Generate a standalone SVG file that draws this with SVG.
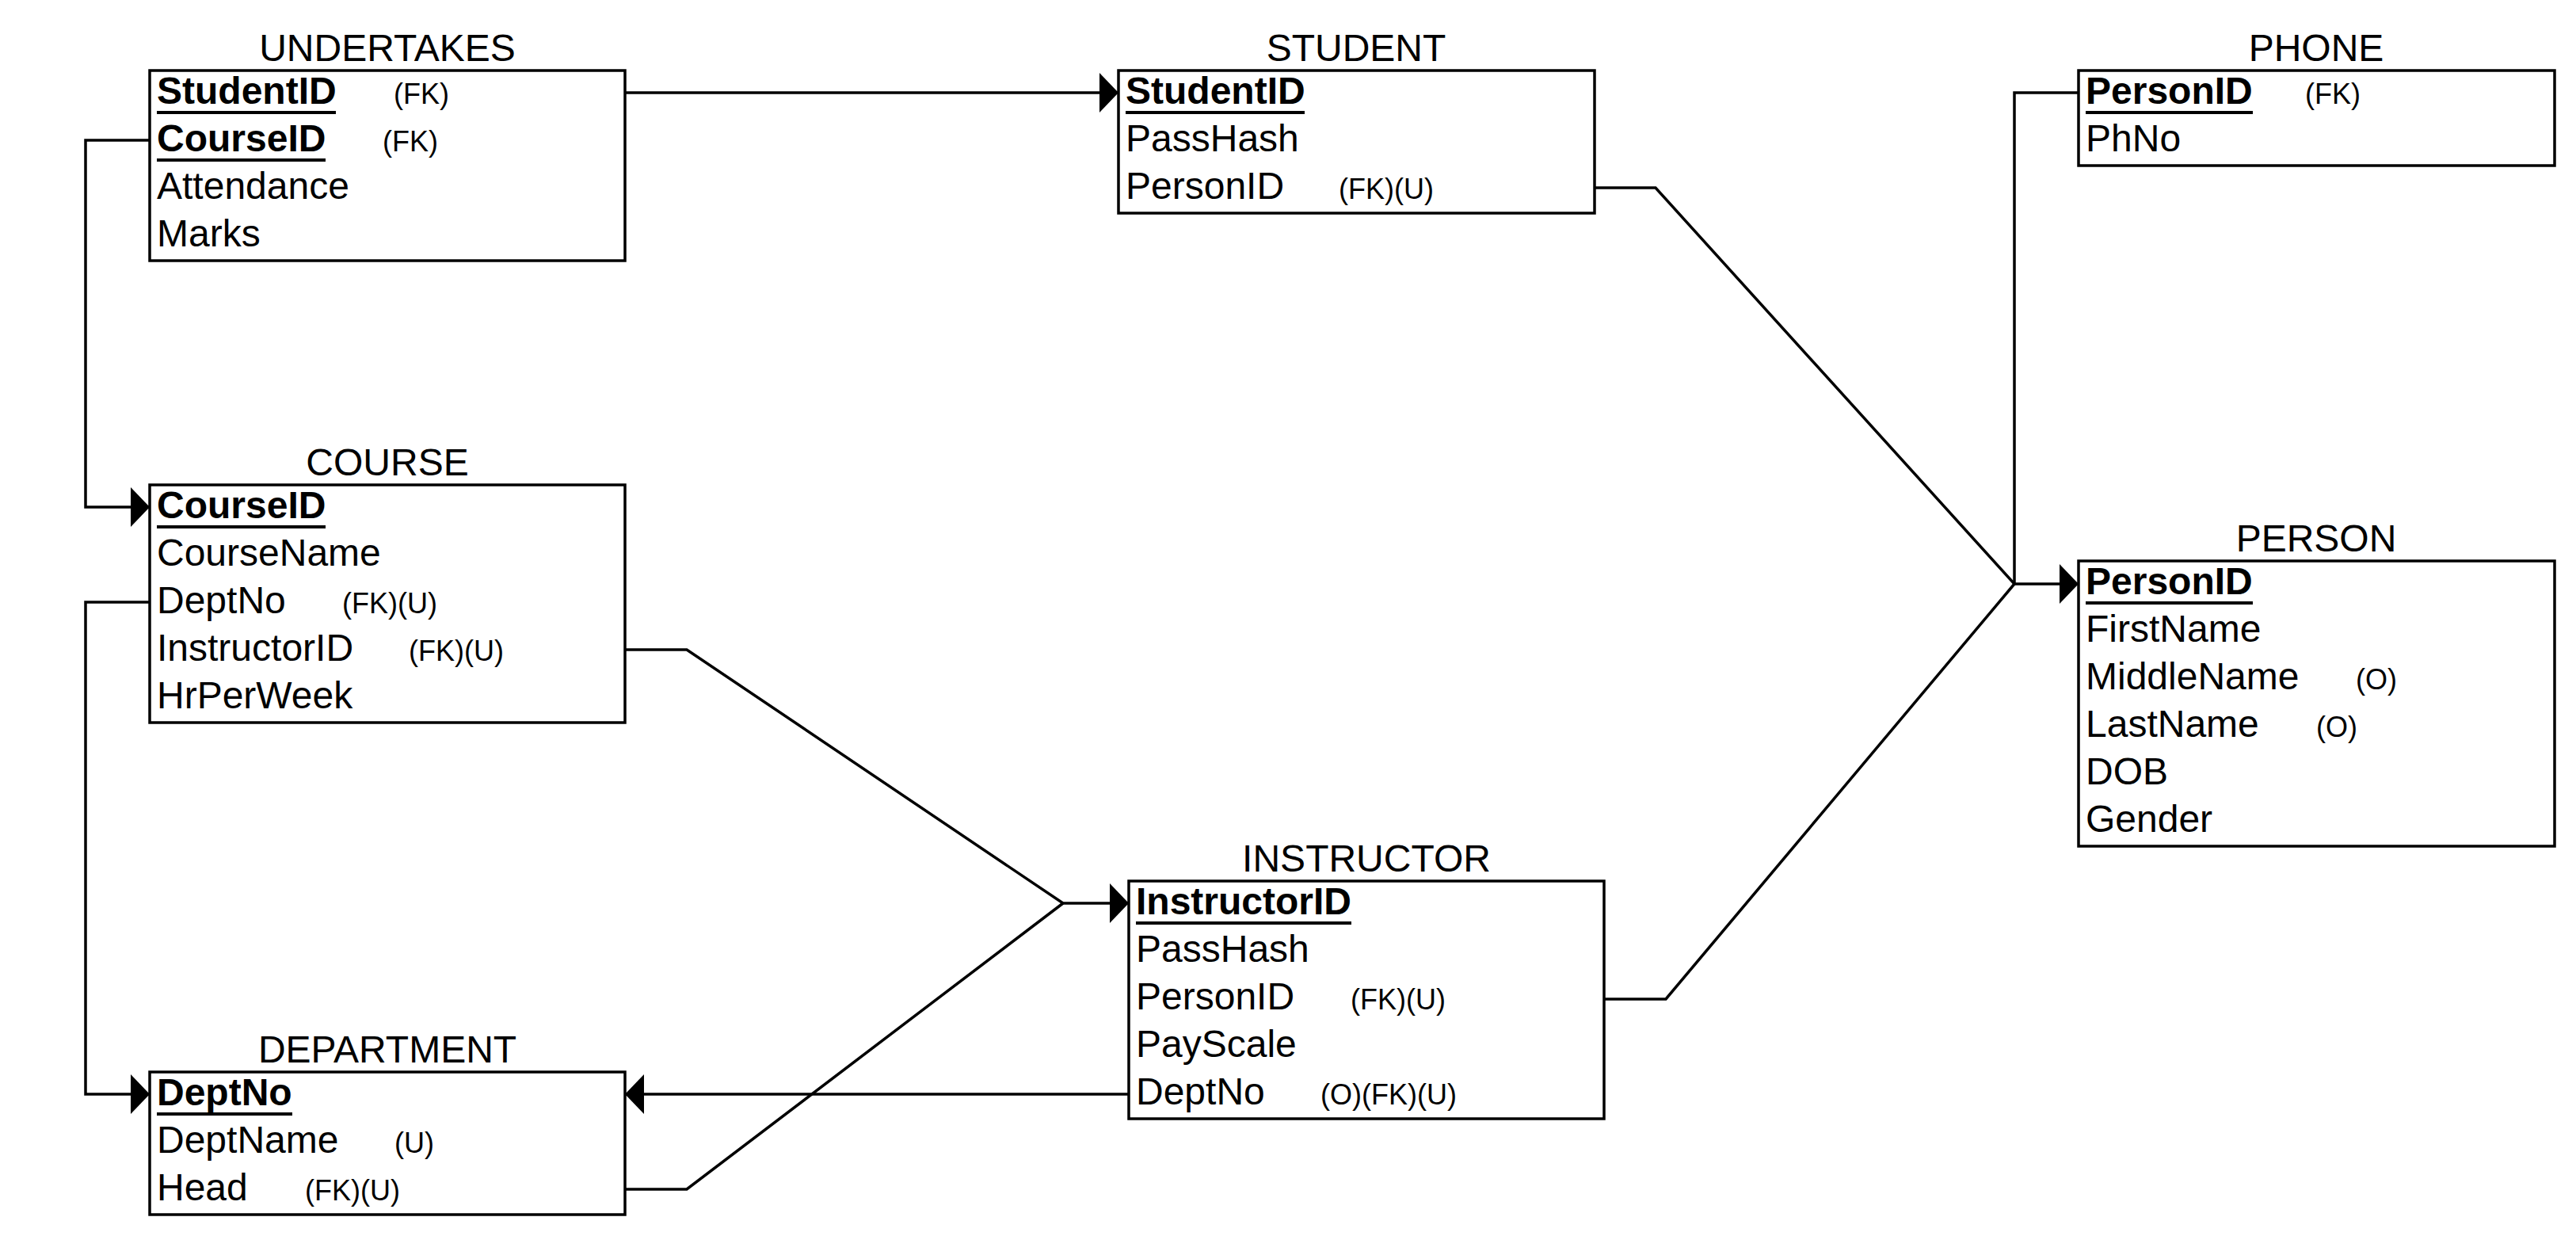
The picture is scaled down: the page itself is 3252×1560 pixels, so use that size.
<svg xmlns="http://www.w3.org/2000/svg" width="3252" height="1560" viewBox="0 0 3252 1560">
<style>
text{font-family:"Liberation Sans",Arial,sans-serif;fill:#000}
.title{font-size:48px;text-anchor:middle}
.row{font-size:48px}
.key{font-size:48px;font-weight:bold}
.note{font-size:36px}
.box{fill:#fff;stroke:#000;stroke-width:3.5}
.ul{stroke:#000;stroke-width:4}
.conn path{fill:none;stroke:#000;stroke-width:3.5}
</style>
<defs>
<marker id="arr" markerUnits="userSpaceOnUse" markerWidth="26" markerHeight="52" refX="24" refY="25" orient="auto" viewBox="0 0 26 52">
<path d="M0,0 L24,25 L0,50 Z" fill="#000"/>
</marker>
</defs>
<rect width="3252" height="1560" fill="#fff"/>

<g class="conn" id="connectors">
<path d="M789,117 H1412" marker-end="url(#arr)"/>
<path d="M189,177 H108 V640 H189" marker-end="url(#arr)"/>
<path d="M189,760 H108 V1381 H189" marker-end="url(#arr)"/>
<path d="M789,820 H867 L1342,1140 H1425" marker-end="url(#arr)"/>
<path d="M789,1501 H867 L1342,1140"/>
<path d="M1425,1381 H789" marker-end="url(#arr)"/>
<path d="M2013,237 H2090 L2543,737 H2624" marker-end="url(#arr)"/>
<path d="M2025,1261 H2103 L2543,737"/>
<path d="M2624,117 H2543 V737"/>
</g>

<g id="undertakes">
<text class="title" x="489" y="77">UNDERTAKES</text>
<rect class="box" x="189" y="89" width="600" height="240"/>
<text class="key" x="198" y="131">StudentID</text><line class="ul" x1="198" y1="142" x2="424" y2="142"/>
<text class="note" x="497" y="131">(FK)</text>
<text class="key" x="198" y="191">CourseID</text><line class="ul" x1="198" y1="202" x2="411" y2="202"/>
<text class="note" x="483" y="191">(FK)</text>
<text class="row" x="198" y="251">Attendance</text>
<text class="row" x="198" y="311">Marks</text>
</g>

<g id="student">
<text class="title" x="1712" y="77">STUDENT</text>
<rect class="box" x="1412" y="89" width="601" height="180"/>
<text class="key" x="1421" y="131">StudentID</text><line class="ul" x1="1421" y1="142" x2="1647" y2="142"/>
<text class="row" x="1421" y="191">PassHash</text>
<text class="row" x="1421" y="251">PersonID</text>
<text class="note" x="1690" y="251">(FK)(U)</text>
</g>

<g id="phone">
<text class="title" x="2924" y="77">PHONE</text>
<rect class="box" x="2624" y="89" width="601" height="120"/>
<text class="key" x="2633" y="131">PersonID</text><line class="ul" x1="2633" y1="142" x2="2844" y2="142"/>
<text class="note" x="2910" y="131">(FK)</text>
<text class="row" x="2633" y="191">PhNo</text>
</g>

<g id="course">
<text class="title" x="489" y="600">COURSE</text>
<rect class="box" x="189" y="612" width="600" height="300"/>
<text class="key" x="198" y="654">CourseID</text><line class="ul" x1="198" y1="665" x2="411" y2="665"/>
<text class="row" x="198" y="714">CourseName</text>
<text class="row" x="198" y="774">DeptNo</text>
<text class="note" x="432" y="774">(FK)(U)</text>
<text class="row" x="198" y="834">InstructorID</text>
<text class="note" x="516" y="834">(FK)(U)</text>
<text class="row" x="198" y="894">HrPerWeek</text>
</g>

<g id="person">
<text class="title" x="2924" y="696">PERSON</text>
<rect class="box" x="2624" y="708" width="601" height="360"/>
<text class="key" x="2633" y="750">PersonID</text><line class="ul" x1="2633" y1="761" x2="2844" y2="761"/>
<text class="row" x="2633" y="810">FirstName</text>
<text class="row" x="2633" y="870">MiddleName</text>
<text class="note" x="2974" y="870">(O)</text>
<text class="row" x="2633" y="930">LastName</text>
<text class="note" x="2924" y="930">(O)</text>
<text class="row" x="2633" y="990">DOB</text>
<text class="row" x="2633" y="1050">Gender</text>
</g>

<g id="instructor">
<text class="title" x="1725" y="1100">INSTRUCTOR</text>
<rect class="box" x="1425" y="1112" width="600" height="300"/>
<text class="key" x="1434" y="1154">InstructorID</text><line class="ul" x1="1434" y1="1165" x2="1706" y2="1165"/>
<text class="row" x="1434" y="1214">PassHash</text>
<text class="row" x="1434" y="1274">PersonID</text>
<text class="note" x="1705" y="1274">(FK)(U)</text>
<text class="row" x="1434" y="1334">PayScale</text>
<text class="row" x="1434" y="1394">DeptNo</text>
<text class="note" x="1667" y="1394">(O)(FK)(U)</text>
</g>

<g id="department">
<text class="title" x="489" y="1341">DEPARTMENT</text>
<rect class="box" x="189" y="1353" width="600" height="180"/>
<text class="key" x="198" y="1395">DeptNo</text><line class="ul" x1="198" y1="1406" x2="369" y2="1406"/>
<text class="row" x="198" y="1455">DeptName</text>
<text class="note" x="498" y="1455">(U)</text>
<text class="row" x="198" y="1515">Head</text>
<text class="note" x="385" y="1515">(FK)(U)</text>
</g>
</svg>
